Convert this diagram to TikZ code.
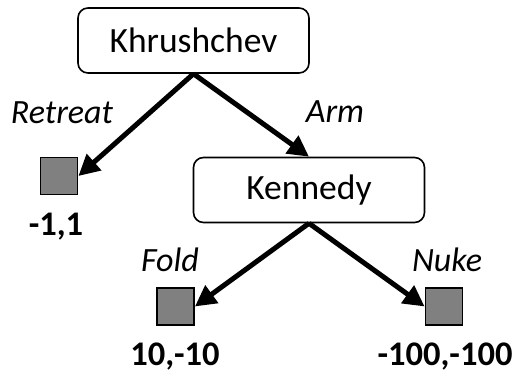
\documentclass[tikz,border=0pt]{standalone}
\usepackage{fontspec}
\setmainfont{Carlito}
\usetikzlibrary{arrows.meta}
\begin{document}
\begin{tikzpicture}[x=1pt,y=-1pt,
  player/.style={draw, line width=1.6pt, rounded corners=10pt, minimum width=231pt, minimum height=65pt, inner sep=0pt, font=\fontsize{35.5}{40}\selectfont},
  leaf/.style={draw, line width=1.8pt, fill={rgb,255:red,128;green,128;blue,128}, minimum size=37pt, inner sep=0pt},
  move/.style={font=\fontsize{34}{40}\selectfont\itshape, inner sep=0pt},
  payoff/.style={font=\fontsize{34.5}{40}\selectfont\bfseries, inner sep=0pt},
  edge/.style={line width=5pt, -{Triangle[length=21pt,width=21pt]}}]
\useasboundingbox (0,0) rectangle (512,377);
\node[player] (kh) at (193.5,40.5) {Khrushchev};
\node[player] (ke) at (309,190) {Kennedy};
\node[leaf] (l1) at (59,176) {};
\node[leaf] (l2) at (175.5,306.5) {};
\node[leaf] (l3) at (444,306.5) {};
\node[move] (mr) at (62,113) {Retreat};
\node[move] (ma) at (335,112) {Arm};
\node[move] (mf) at (170,260) {Fold};
\node[move] (mn) at (447,260) {Nuke};
\node[payoff] (p1) at (56,227) {-1,1};
\node[payoff] (p2) at (175,357) {10,-10};
\node[payoff] (p3) at (445,357) {-100,-100};
\draw[edge] (kh.south) -- (l1.east);
\draw[edge] (kh.south) -- (ke.north);
\draw[edge] (ke.south) -- (l2.east);
\draw[edge] (ke.south) -- (l3.west);
\end{tikzpicture}
\end{document}
